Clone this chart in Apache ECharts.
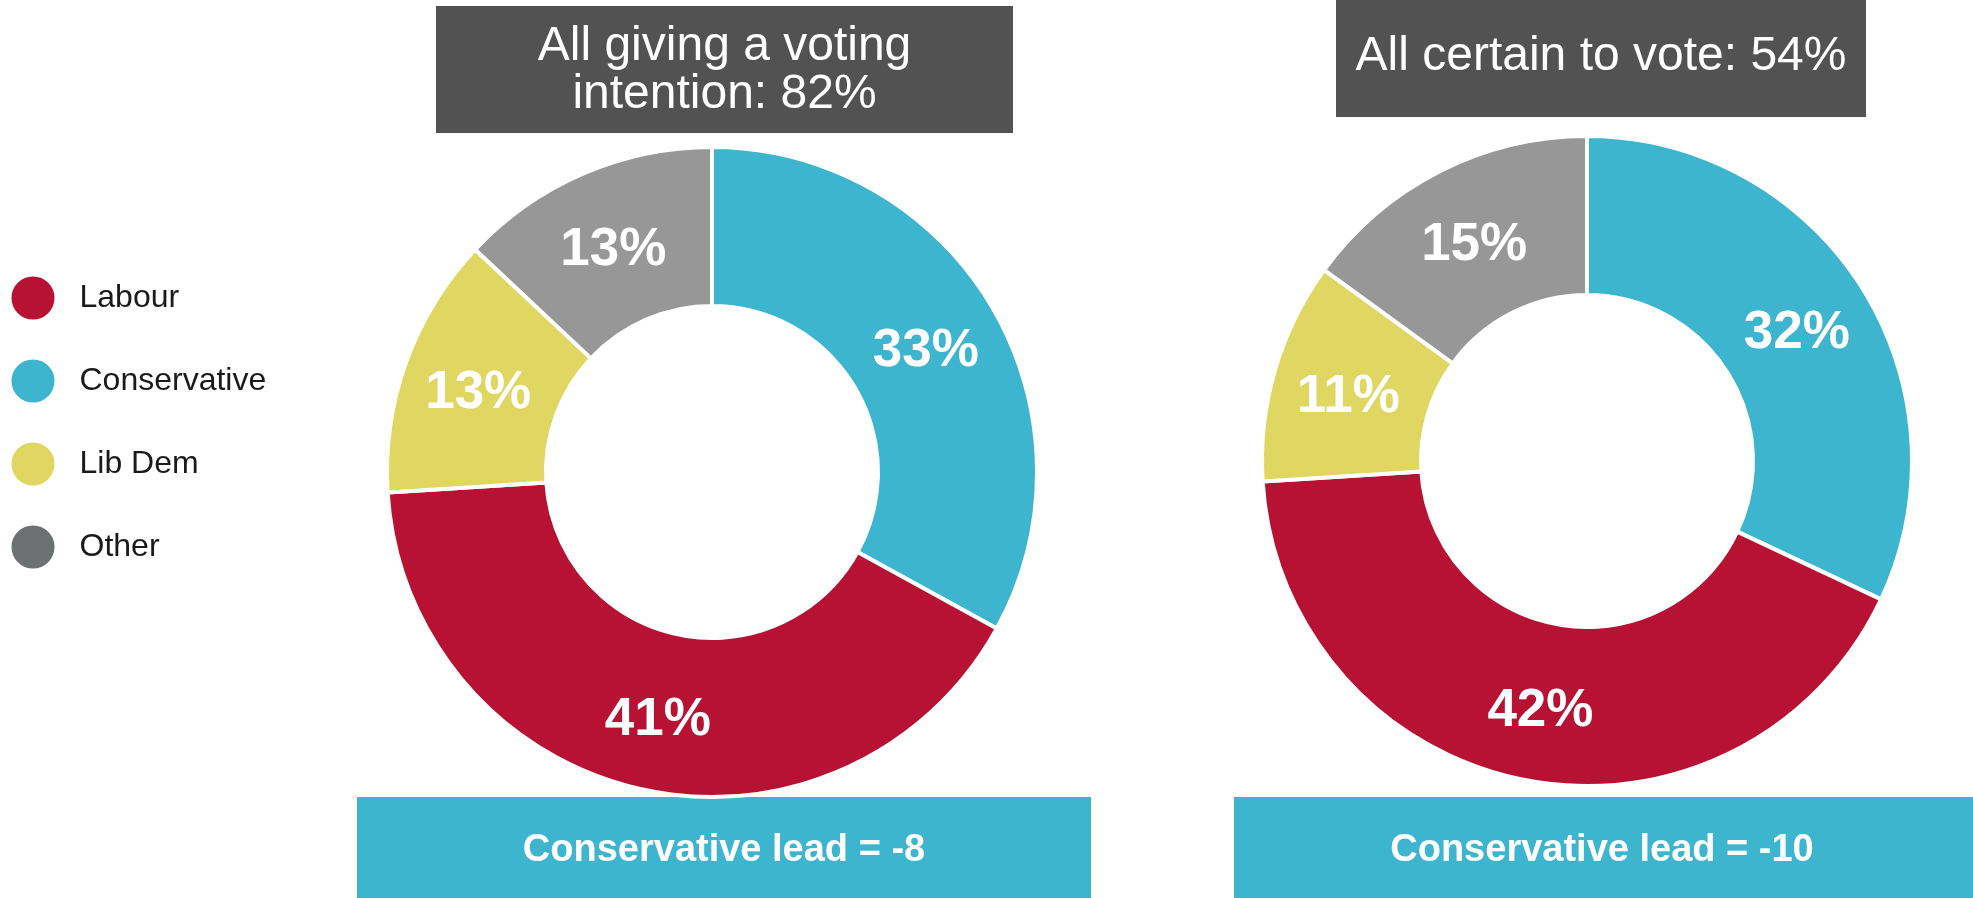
<!DOCTYPE html>
<html>
<head>
<meta charset="utf-8">
<script src="https://cdn.jsdelivr.net/npm/echarts@6/dist/echarts.min.js"></script>
<style>
html,body{margin:0;padding:0;background:#fff;}
#chart{width:1973px;height:898px;}
</style>
</head>
<body>
<div id="chart"></div>
<script>
// Data
const parties = ['Conservative', 'Labour', 'Lib Dem', 'Other'];
const legendOrder = ['Labour', 'Conservative', 'Lib Dem', 'Other'];
const allGiving = [33, 41, 13, 13];
const certainToVote = [32, 42, 11, 15];
const titleLeft = 'All giving a voting\nintention: 82%';
const titleRight = 'All certain to vote: 54%';
const leadLeft = 'Conservative lead = -8';
const leadRight = 'Conservative lead = -10';

// Styles
const sliceColors = {'Conservative':'#3DB5CF','Labour':'#B71234','Lib Dem':'#E0D762','Other':'#979797'};
const legendColors = {'Conservative':'#3DB5CF','Labour':'#B71234','Lib Dem':'#E0D762','Other':'#6D7070'};
const FONT = '"Liberation Sans", Arial, sans-serif';

function pieData(vals){
  return parties.map((p,i)=>({name:p, value:vals[i], itemStyle:{color:sliceColors[p]}}));
}
function pieSeries(vals, cx, cy){
  return {
    type:'pie', z:3,
    center:[cx, cy], radius:[166, 325],
    startAngle:90, clockwise:true,
    avoidLabelOverlap:false,
    itemStyle:{borderColor:'#fff', borderWidth:4},
    label:{show:true, position:'inside', formatter:'{c}%', color:'#fff',
      fontFamily:FONT, fontWeight:'bold', fontSize:53, offset:[0,6]},
    labelLine:{show:false},
    emphasis:{disabled:true},
    data:pieData(vals)
  };
}

const chart = echarts.init(document.getElementById('chart'), null, {renderer:'canvas'});
chart.setOption({
  animation:false,
  backgroundColor:'#fff',
  legend:{
    orient:'vertical', left:9.5, top:274.5, padding:0,
    itemWidth:45, itemHeight:45, itemGap:36,
    icon:'circle', selectedMode:false,
    textStyle:{fontFamily:FONT, fontSize:32, color:'#1a1a1a', padding:[0,0,0,19]},
    data:legendOrder.map(n=>({name:n, itemStyle:{color:legendColors[n]}}))
  },
  graphic:[
    {type:'rect', z:0, shape:{x:436, y:6, width:577, height:127}, style:{fill:'#525252'}},
    {type:'text', z:1, x:724.5, y:71, style:{text:titleLeft, fill:'#fff', font:'48px '+FONT,
      align:'center', verticalAlign:'middle', lineHeight:48}},
    {type:'rect', z:0, shape:{x:1336, y:0, width:530, height:117}, style:{fill:'#525252'}},
    {type:'text', z:1, x:1601, y:57, style:{text:titleRight, fill:'#fff', font:'48px '+FONT,
      align:'center', verticalAlign:'middle'}},
    {type:'rect', z:0, shape:{x:357, y:797, width:734, height:101}, style:{fill:'#3DB5CF'}},
    {type:'text', z:1, x:724, y:851, style:{text:leadLeft, fill:'#fff', font:'bold 38px '+FONT,
      align:'center', verticalAlign:'middle'}},
    {type:'rect', z:0, shape:{x:1234, y:797, width:739, height:101}, style:{fill:'#3DB5CF'}},
    {type:'text', z:1, x:1602, y:851, style:{text:leadRight, fill:'#fff', font:'bold 38px '+FONT,
      align:'center', verticalAlign:'middle'}}
  ],
  series:[
    pieSeries(allGiving, 712, 472),
    pieSeries(certainToVote, 1587, 461)
  ]
});
</script>
</body>
</html>
